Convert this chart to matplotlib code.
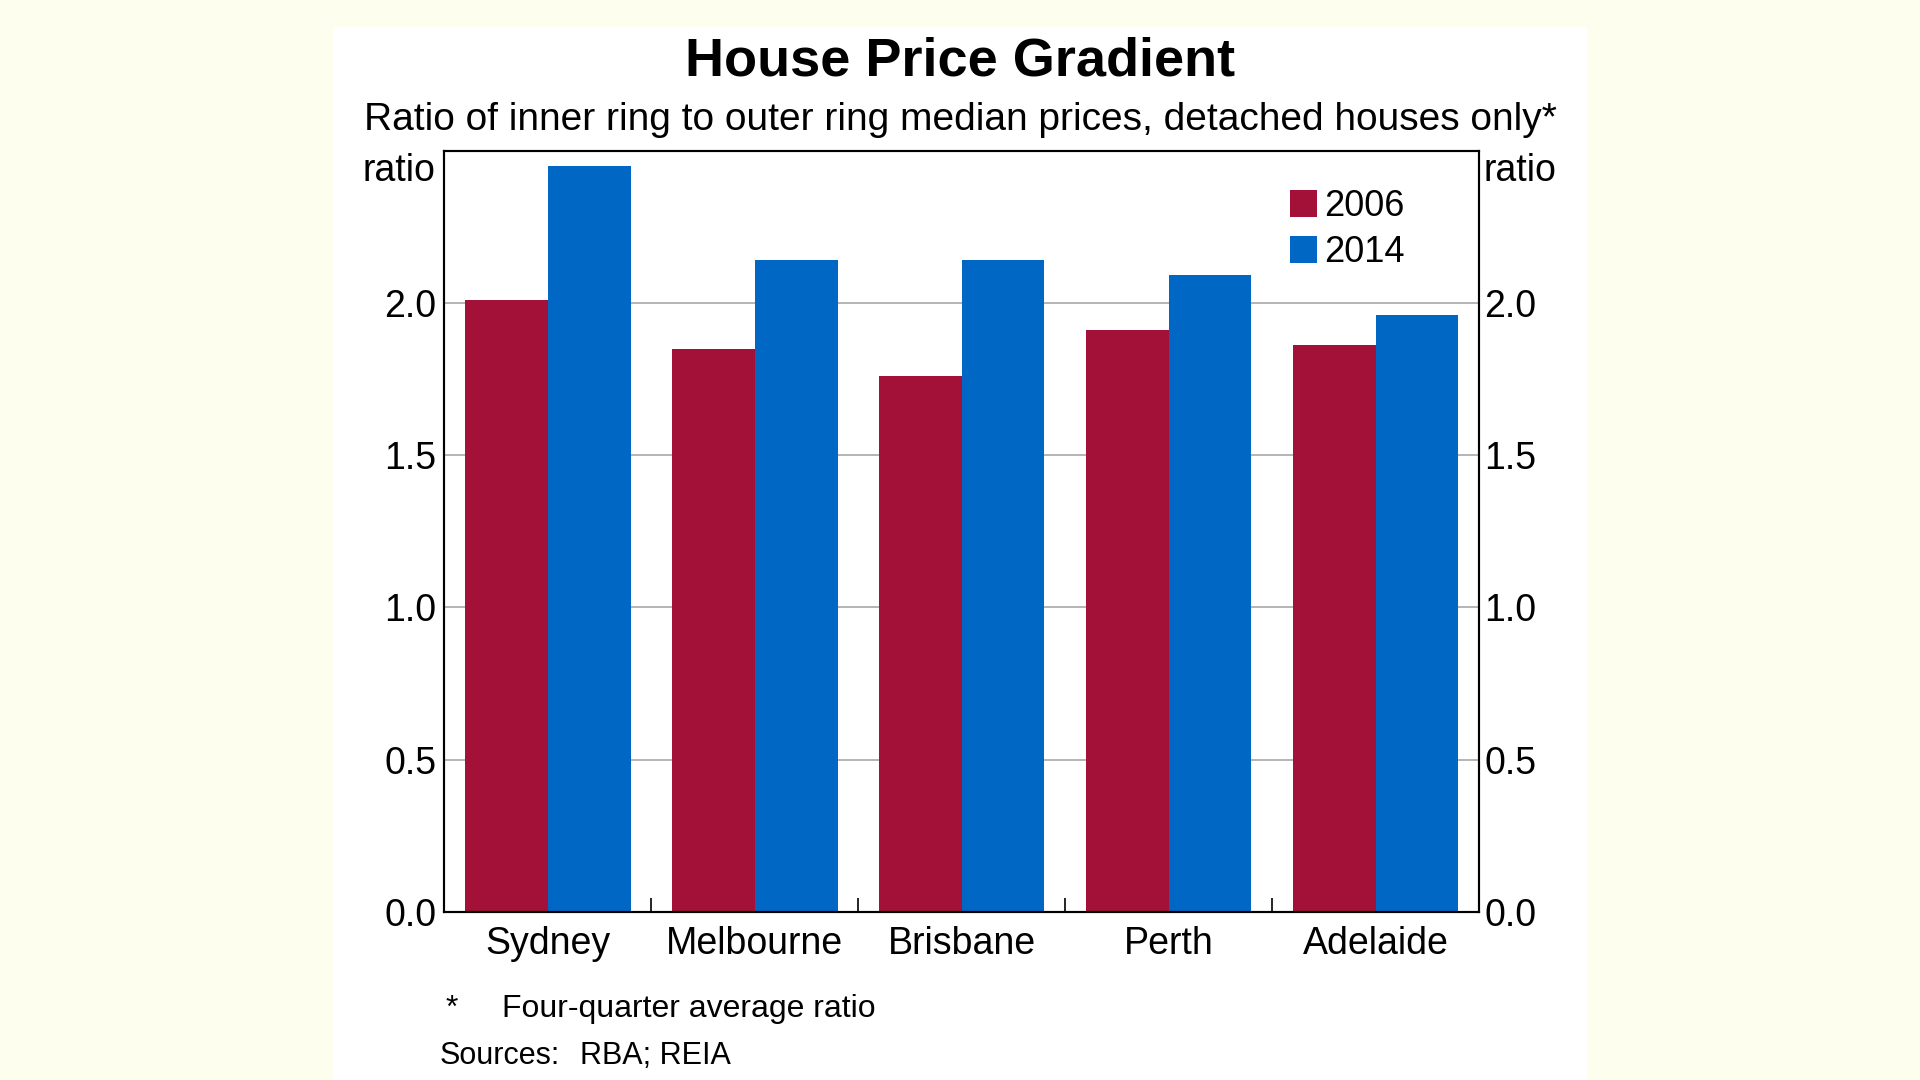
import numpy as np
import matplotlib.pyplot as plt
from matplotlib.patches import Rectangle

cities = ["Sydney", "Melbourne", "Brisbane", "Perth", "Adelaide"]
ratio_2006 = [2.01, 1.85, 1.76, 1.91, 1.86]
ratio_2014 = [2.45, 2.14, 2.14, 2.09, 1.96]
yticks = [0.0, 0.5, 1.0, 1.5, 2.0]

red = "#A31038"
blue = "#0067C5"

plt.rcParams['font.family'] = ['Liberation Sans', 'DejaVu Sans']

fig = plt.figure(figsize=(19.2, 10.8), dpi=100, facecolor="#FEFEEE")
# white panel behind the chart
fig.patches.append(Rectangle((0.1734, 0.0), 0.6532, 0.975, transform=fig.transFigure,
                             facecolor="white", edgecolor="none", zorder=-5))

ax = fig.add_axes([0.2315, 0.1556, 0.5388, 0.705])
x = np.arange(len(cities))
w = 0.4
ax.bar(x - w / 2, ratio_2006, w, color=red, label="2006", zorder=2)
ax.bar(x + w / 2, ratio_2014, w, color=blue, label="2014", zorder=2)

ax.set_xlim(-0.5, len(cities) - 0.5)
ax.set_ylim(0, 2.5)
ax.set_yticks(yticks)
ax.set_yticklabels([f"{v:.1f}" for v in yticks])
ax.yaxis.grid(True, color="#A8A8A8", linewidth=1.2, zorder=0)
ax.set_axisbelow(True)
ax.tick_params(axis="y", length=0, labelsize=27, pad=6)

ax.set_xticks(x)
ax.set_xticklabels(cities)
ax.tick_params(axis="x", length=0, labelsize=27, pad=10)
# small inward ticks between categories
ax.set_xticks(np.arange(0.5, len(cities) - 1, 1.0), minor=True)
ax.tick_params(axis="x", which="minor", direction="in", length=10, width=1.2, color="black")

for s in ax.spines.values():
    s.set_linewidth(1.5)
    s.set_color("black")

ax2 = ax.twinx()
ax2.set_ylim(ax.get_ylim())
ax2.set_yticks(yticks)
ax2.set_yticklabels([f"{v:.1f}" for v in yticks])
ax2.tick_params(axis="y", length=0, labelsize=27, pad=4)
for s in ax2.spines.values():
    s.set_linewidth(1.5)

leg = ax.legend(loc="upper left", bbox_to_anchor=(0.80, 0.973), frameon=False, fontsize=26,
                handlelength=0.75, handleheight=0.75, handletextpad=0.2, labelspacing=0.3,
                borderpad=0)

fig.text(0.5, 0.943, "House Price Gradient", ha="center", va="center",
         fontsize=39, fontweight="bold")
fig.text(0.5, 0.889, "Ratio of inner ring to outer ring median prices, detached houses only*",
         ha="center", va="center", fontsize=28)
fig.text(0.2266, 0.842, "ratio", ha="right", va="center", fontsize=27)
fig.text(0.7729, 0.842, "ratio", ha="left", va="center", fontsize=27)

fig.text(0.2318, 0.066, "*", ha="left", va="center", fontsize=23)
fig.text(0.2615, 0.066, "Four-quarter average ratio", ha="left", va="center", fontsize=23)
fig.text(0.2292, 0.022, "Sources:", ha="left", va="center", fontsize=22)
fig.text(0.302, 0.022, "RBA; REIA", ha="left", va="center", fontsize=22)

fig.savefig("out.png", dpi=100, facecolor=fig.get_facecolor())
